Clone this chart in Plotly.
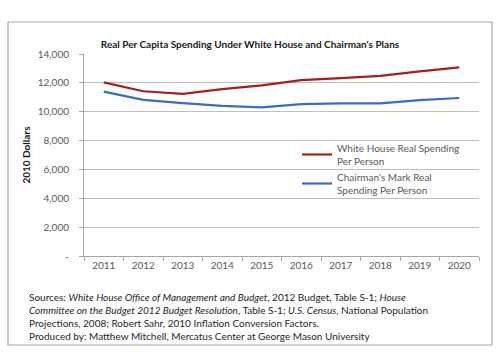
import plotly.graph_objects as go

years = ["2011", "2012", "2013", "2014", "2015", "2016", "2017", "2018", "2019", "2020"]
white_house = [12030, 11420, 11240, 11560, 11820, 12190, 12330, 12490, 12800, 13070]
chairman = [11390, 10820, 10600, 10400, 10300, 10530, 10580, 10580, 10810, 10950]
ytick_vals = [0, 2000, 4000, 6000, 8000, 10000, 12000, 14000]
ytick_text = ["-", "2,000", "4,000", "6,000", "8,000", "10,000", "12,000", "14,000"]

W, H = 500, 352
L, R, T, B = 84, 479, 54, 256
FONT = "Lato, Carlito, 'Open Sans', sans-serif"
GRAY = "#595959"

def px(x):
    return (x - L) / (R - L)

def py(y):
    return (B - y) / (B - T)

fig = go.Figure()
fig.add_trace(go.Scatter(x=years, y=white_house, mode="lines",
                         name="White House Real Spending<br>Per Person",
                         line=dict(color="#A3201F", width=2.2)))
fig.add_trace(go.Scatter(x=years, y=chairman, mode="lines",
                         name="Chairman's Mark Real<br>Spending Per Person",
                         line=dict(color="#3B6CC4", width=2.2)))

fig.update_layout(
    width=W, height=H,
    margin=dict(l=L, r=W - R, t=T, b=H - B),
    paper_bgcolor="white", plot_bgcolor="white",
    font=dict(family=FONT, size=10, color=GRAY),
    title=dict(text="<b>Real Per Capita Spending Under White House and Chairman's Plans</b>",
               x=0.5, xanchor="center", y=1 - 44 / H, yanchor="middle",
               font=dict(size=10, color="#1a1a1a", family=FONT)),
    showlegend=True,
    legend=dict(x=px(297), y=py(135), xanchor="left", yanchor="top",
                bgcolor="rgba(0,0,0,0)", font=dict(size=10, color=GRAY, family=FONT),
                itemwidth=30, tracegroupgap=0),
    xaxis=dict(type="category", range=[-0.5, 9.5], showgrid=False,
               showline=True, linecolor="#a6a6a6", linewidth=1,
               ticks="outside", tickson="boundaries", ticklen=4, tickcolor="#a6a6a6",
               tickfont=dict(size=10, color=GRAY), fixedrange=True),
    yaxis=dict(range=[0, 14000], tickvals=ytick_vals, ticktext=ytick_text,
               showgrid=True, gridcolor="#bfbfbf", gridwidth=1,
               showline=True, linecolor="#a6a6a6", linewidth=1,
               ticks="outside", ticklen=4, tickcolor="#a6a6a6",
               ticklabelstandoff=8, zeroline=False,
               tickfont=dict(size=10, color=GRAY),
               title=dict(text="<b>2010 Dollars</b>", standoff=5,
                          font=dict(size=10, color="#1a1a1a"))),
)

# outer chart border
fig.add_shape(type="rect", xref="paper", yref="paper",
              x0=px(8), x1=px(492), y0=py(345), y1=py(22),
              line=dict(color="#a6a6a6", width=1.2), fillcolor="rgba(0,0,0,0)", layer="below")

sources = ("Sources: <i>White House Office of Management and Budget</i>, 2012 Budget, Table S-1; <i>House</i><br>"
           "<i>Committee on the Budget 2012 Budget Resolution</i>, Table S-1; <i>U.S. Census</i>, National Population<br>"
           "Projections, 2008; Robert Sahr, 2010 Inflation Conversion Factors.<br>"
           "Produced by: Matthew Mitchell, Mercatus Center at George Mason University")
fig.add_annotation(text=sources, xref="paper", yref="paper", x=px(27), y=py(289),
                   xanchor="left", yanchor="top", align="left", showarrow=False,
                   font=dict(size=10, color="#262626", family=FONT))

fig.write_html("out.html")
